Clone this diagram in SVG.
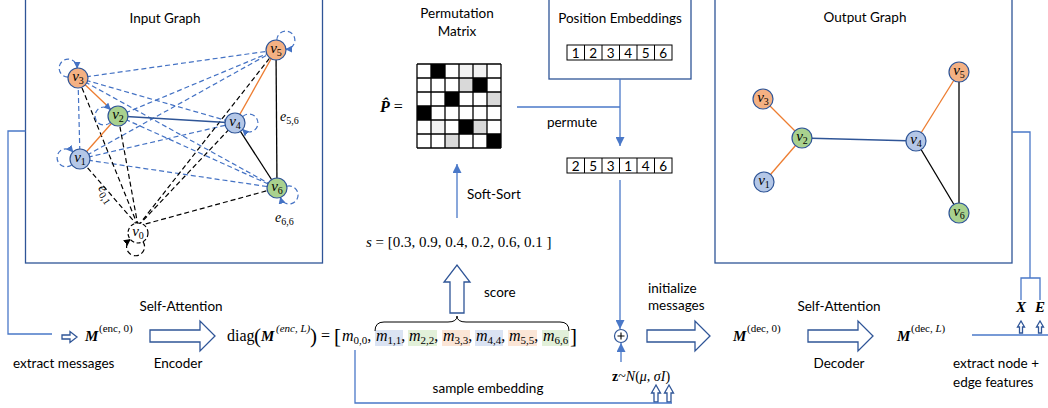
<svg xmlns="http://www.w3.org/2000/svg" width="1048" height="408" viewBox="0 0 1048 408">
<style>
.lbl{font-family:Lato,"Liberation Sans",sans-serif;font-size:13.5px;fill:#000}
.mid{text-anchor:middle}
.box{fill:#fff;stroke:#2F5597;stroke-width:1.3}
.conn{fill:none;stroke:#4A78C8;stroke-width:1.3}
.ser{font-family:"Liberation Serif","DejaVu Serif",serif;fill:#000}
.it{font-style:italic}
.bi{font-style:italic;font-weight:bold}
.nv{font-family:"Liberation Serif",serif;font-style:italic;font-size:15px;text-anchor:middle}
.nb{fill:#B4C7E7;stroke:#2F5597;stroke-width:1.2}
.ng{fill:#A9D18E;stroke:#2F5597;stroke-width:1.2}
.no{fill:#F4B183;stroke:#2F5597;stroke-width:1.2}
.dblue{stroke:#4472C4;stroke-width:1.2;stroke-dasharray:5 3;fill:none}
.dblack{stroke:#000;stroke-width:1.2;stroke-dasharray:5 3;fill:none}
.eor{stroke:#ED7D31;stroke-width:1.3}
.edb{stroke:#2F5597;stroke-width:1.3}
.ebk{stroke:#000;stroke-width:1.3}
.hollow{fill:#fff;stroke:#2F5597;stroke-width:1.3}
.cell{fill:#fff;stroke:#000;stroke-width:1}
</style>
<defs>
<marker id="ah" viewBox="0 0 10 10" refX="10" refY="5" markerWidth="9" markerHeight="9" markerUnits="userSpaceOnUse" orient="auto"><path d="M0,0 L10,5 L0,10 z" fill="#4A78C8"/></marker>
<marker id="lb" viewBox="0 0 10 10" refX="9" refY="5" markerWidth="7" markerHeight="7" markerUnits="userSpaceOnUse" orient="auto"><path d="M0,0 L10,5 L0,10 z" fill="#4472C4"/></marker>
<marker id="lk" viewBox="0 0 10 10" refX="9" refY="5" markerWidth="7" markerHeight="7" markerUnits="userSpaceOnUse" orient="auto"><path d="M0,0 L10,5 L0,10 z" fill="#000"/></marker>
</defs>
<rect width="1048" height="408" fill="#fff"/>

<!-- Input graph -->
<g id="input-graph">
<rect class="box" x="25.5" y="-2" width="297" height="265"/>
<text class="lbl mid" x="165" y="23">Input Graph</text>
<g id="in-edges">
<line class="dblue" x1="80" y1="159" x2="78" y2="78"/>
<line class="dblue" x1="80" y1="159" x2="235" y2="123"/>
<line class="dblue" x1="80" y1="159" x2="276" y2="50"/>
<line class="dblue" x1="80" y1="159" x2="277" y2="188"/>
<line class="dblue" x1="118" y1="116" x2="276" y2="50"/>
<line class="dblue" x1="118" y1="116" x2="277" y2="188"/>
<line class="dblue" x1="78" y1="78" x2="235" y2="123"/>
<line class="dblue" x1="78" y1="78" x2="276" y2="50"/>
<line class="dblue" x1="78" y1="78" x2="277" y2="188"/>
<line class="dblack" x1="138" y1="226" x2="80" y2="159"/>
<line class="dblack" x1="138" y1="226" x2="118" y2="116"/>
<line class="dblack" x1="138" y1="226" x2="78" y2="78"/>
<line class="dblack" x1="138" y1="226" x2="235" y2="123"/>
<line class="dblack" x1="138" y1="226" x2="276" y2="50"/>
<line class="dblack" x1="138" y1="226" x2="277" y2="188"/>
<line class="eor" x1="78" y1="78" x2="118" y2="116"/>
<line class="eor" x1="80" y1="159" x2="118" y2="116"/>
<line class="edb" x1="118" y1="116" x2="235" y2="123"/>
<line class="eor" x1="235" y1="123" x2="276" y2="50"/>
<line class="ebk" x1="235" y1="123" x2="277" y2="188"/>
<line class="ebk" x1="276" y1="50" x2="277" y2="188"/>
<path class="dblue" marker-end="url(#lb)" d="M68.04,77.13 A9,9 0 1 1 77.13,68.04"/>
<path class="dblue" marker-end="url(#lb)" d="M110.34,122.43 A9,9 0 1 1 110.34,109.57"/>
<path class="dblue" marker-end="url(#lb)" d="M71.81,164.74 A9,9 0 1 1 72.93,151.93"/>
<path class="dblue" marker-end="url(#lb)" d="M242.66,116.57 A9,9 0 1 1 242.66,129.43"/>
<path class="dblue" marker-end="url(#lb)" d="M276.87,40.04 A9,9 0 1 1 285.96,49.13"/>
<path class="dblue" marker-end="url(#lb)" d="M286.85,186.26 A9,9 0 1 1 280.42,197.40"/>
<path class="dblack" marker-end="url(#lk)" d="M143,241.66 A9,9 0 1 1 130.34,239.43"/>
<text class="ser it" font-size="14" x="280" y="121">e<tspan font-size="10" dy="3" font-style="normal">5,6</tspan></text>
<text class="ser it" font-size="14" x="275" y="222">e<tspan font-size="10" dy="3" font-style="normal">6,6</tspan></text>
<text class="ser it" font-size="14" x="91" y="192" transform="rotate(58 98 196)">e<tspan font-size="10" dy="3" font-style="normal">0,1</tspan></text>
</g>
<g id="in-v0"><circle cx="138" cy="233" r="10" fill="#fff" stroke="#000" stroke-width="1.2" stroke-dasharray="4 2.5"/><text class="nv" x="138" y="236">v<tspan font-size="10" dy="3" font-style="normal">0</tspan></text></g>
<g id="in-v1"><circle class="nb" cx="80" cy="159" r="10"/><text class="nv" x="80" y="162">v<tspan font-size="10" dy="3" font-style="normal">1</tspan></text></g>
<g id="in-v2"><circle class="ng" cx="118" cy="116" r="10"/><text class="nv" x="118" y="119">v<tspan font-size="10" dy="3" font-style="normal">2</tspan></text></g>
<g id="in-v3"><circle class="no" cx="78" cy="78" r="10"/><text class="nv" x="78" y="81">v<tspan font-size="10" dy="3" font-style="normal">3</tspan></text></g>
<g id="in-v4"><circle class="nb" cx="235" cy="123" r="10"/><text class="nv" x="235" y="126">v<tspan font-size="10" dy="3" font-style="normal">4</tspan></text></g>
<g id="in-v5"><circle class="no" cx="276" cy="50" r="10"/><text class="nv" x="276" y="53">v<tspan font-size="10" dy="3" font-style="normal">5</tspan></text></g>
<g id="in-v6"><circle class="ng" cx="277" cy="188" r="10"/><text class="nv" x="277" y="191">v<tspan font-size="10" dy="3" font-style="normal">6</tspan></text></g>
</g>

<!-- Output graph -->
<g id="output-graph">
<rect class="box" x="715" y="-2" width="297" height="265"/>
<text class="lbl mid" x="865" y="22">Output Graph</text>
<g id="out-edges">
<line class="eor" x1="763" y1="99" x2="802" y2="138"/>
<line class="eor" x1="764" y1="182" x2="802" y2="138"/>
<line class="edb" x1="802" y1="138" x2="916" y2="141"/>
<line class="eor" x1="916" y1="141" x2="959" y2="72"/>
<line class="ebk" x1="916" y1="141" x2="959" y2="213"/>
<line class="ebk" x1="959" y1="72" x2="959" y2="213"/>
</g>
<g id="out-v1"><circle class="nb" cx="764" cy="182" r="10"/><text class="nv" x="764" y="185">v<tspan font-size="10" dy="3" font-style="normal">1</tspan></text></g>
<g id="out-v2"><circle class="ng" cx="802" cy="138" r="10"/><text class="nv" x="802" y="141">v<tspan font-size="10" dy="3" font-style="normal">2</tspan></text></g>
<g id="out-v3"><circle class="no" cx="763" cy="99" r="10"/><text class="nv" x="763" y="102">v<tspan font-size="10" dy="3" font-style="normal">3</tspan></text></g>
<g id="out-v4"><circle class="nb" cx="916" cy="141" r="10"/><text class="nv" x="916" y="144">v<tspan font-size="10" dy="3" font-style="normal">4</tspan></text></g>
<g id="out-v5"><circle class="no" cx="959" cy="72" r="10"/><text class="nv" x="959" y="75">v<tspan font-size="10" dy="3" font-style="normal">5</tspan></text></g>
<g id="out-v6"><circle class="ng" cx="959" cy="213" r="10"/><text class="nv" x="959" y="216">v<tspan font-size="10" dy="3" font-style="normal">6</tspan></text></g>
</g>

<!-- Position embeddings -->
<g id="position-embeddings">
<rect class="box" x="549" y="-2" width="142" height="81"/>
<text class="lbl mid" x="620" y="23">Position Embeddings</text>
<g class="lbl" font-size="13" text-anchor="middle">
<rect class="cell" x="567" y="45" width="105" height="15"/>
<path d="M584.5,45v15M602,45v15M619.5,45v15M637,45v15M654.5,45v15" stroke="#000"/>
<text x="575.75" y="57.5">1</text><text x="593.25" y="57.5">2</text><text x="610.75" y="57.5">3</text><text x="628.25" y="57.5">4</text><text x="645.75" y="57.5">5</text><text x="663.25" y="57.5">6</text>
</g>
</g>

<g id="permuted-positions" class="lbl" font-size="13" text-anchor="middle">
<rect class="cell" x="567" y="158" width="105" height="15"/>
<path d="M584.5,158v15M602,158v15M619.5,158v15M637,158v15M654.5,158v15" stroke="#000"/>
<text x="575.75" y="170.5">2</text><text x="593.25" y="170.5">5</text><text x="610.75" y="170.5">3</text><text x="628.25" y="170.5">1</text><text x="645.75" y="170.5">4</text><text x="663.25" y="170.5">6</text>
</g>

<!-- Permutation matrix -->
<g id="permutation-matrix">
<text class="lbl mid" x="457" y="18">Permutation</text>
<text class="lbl mid" x="457" y="36">Matrix</text>
<text class="ser" font-size="16" x="380" y="112"><tspan font-style="italic" font-weight="bold">P̂</tspan> =</text>
<rect x="417" y="64" width="84" height="84" fill="#fff"/>
<rect x="431" y="64" width="14" height="14" fill="#000"/>
<rect x="459" y="64" width="14" height="14" fill="#F2F2F2"/>
<rect x="473" y="64" width="14" height="14" fill="#F2F2F2"/>
<rect x="459" y="78" width="14" height="14" fill="#D9D9D9"/>
<rect x="473" y="78" width="14" height="14" fill="#000"/>
<rect x="445" y="92" width="14" height="14" fill="#000"/>
<rect x="487" y="92" width="14" height="14" fill="#D9D9D9"/>
<rect x="417" y="106" width="14" height="14" fill="#000"/>
<rect x="431" y="120" width="14" height="14" fill="#F2F2F2"/>
<rect x="459" y="120" width="14" height="14" fill="#000"/>
<rect x="473" y="120" width="14" height="14" fill="#D9D9D9"/>
<rect x="445" y="134" width="14" height="14" fill="#D9D9D9"/>
<rect x="487" y="134" width="14" height="14" fill="#000"/>
<path d="M417,64v84M431,64v84M445,64v84M459,64v84M473,64v84M487,64v84M501,64v84M417,64h84M417,78h84M417,92h84M417,106h84M417,120h84M417,134h84M417,148h84" stroke="#000" stroke-width="1.3" fill="none"/>
</g>

<!-- score vector -->
<g id="score-vector">
<text class="ser" font-size="15" x="366" y="247"><tspan font-style="italic">s</tspan> = [0.3, 0.9, 0.4, 0.2, 0.6, 0.1 ]</text>
</g>

<!-- Encoder row -->
<g id="enc-input">
<polygon class="hollow" points="62,335 70,335 70,331.5 77,337 70,342.5 70,339 62,339"/>
<text class="ser bi" font-size="15" x="85" y="341">M</text>
<text class="ser" font-size="11" x="99" y="332">(enc, 0)</text>
<text class="lbl" x="13" y="368">extract messages</text>
</g>
<g id="encoder">
<polygon class="hollow" points="150,330 200,330 200,321 215,336 200,351 200,342 150,342"/>
<text class="lbl mid" x="181" y="311">Self-Attention</text>
<text class="lbl mid" x="178" y="368">Encoder</text>
</g>
<g id="diag-messages">
<text class="ser" font-size="16" x="227" y="341">diag</text>
<text class="ser" font-size="21" x="254" y="343">(</text>
<text class="ser bi" font-size="15" x="261" y="341">M</text>
<text class="ser it" font-size="11" x="276" y="332">(enc, L)</text>
<text class="ser" font-size="21" x="310" y="343">)</text>
<text class="ser" font-size="16" x="321" y="341">=</text>
<text class="ser" font-size="21" x="334" y="343">[</text>
<rect x="375" y="330" width="28" height="16" fill="#DAE3F3"/>
<rect x="408" y="330" width="29" height="16" fill="#E2F0D9"/>
<rect x="442" y="330" width="28" height="16" fill="#FBE5D6"/>
<rect x="475" y="330" width="28" height="16" fill="#DAE3F3"/>
<rect x="508" y="330" width="29" height="16" fill="#FBE5D6"/>
<rect x="542" y="330" width="27" height="16" fill="#E2F0D9"/>
<g class="ser" font-size="16">
<text x="342" y="341"><tspan font-style="italic">m</tspan><tspan font-size="11" dy="3">0,0</tspan><tspan dy="-3">,</tspan></text>
<text x="376" y="341"><tspan font-style="italic">m</tspan><tspan font-size="11" dy="3">1,1</tspan><tspan dy="-3">,</tspan></text>
<text x="409" y="341"><tspan font-style="italic">m</tspan><tspan font-size="11" dy="3">2,2</tspan><tspan dy="-3">,</tspan></text>
<text x="443" y="341"><tspan font-style="italic">m</tspan><tspan font-size="11" dy="3">3,3</tspan><tspan dy="-3">,</tspan></text>
<text x="476" y="341"><tspan font-style="italic">m</tspan><tspan font-size="11" dy="3">4,4</tspan><tspan dy="-3">,</tspan></text>
<text x="509" y="341"><tspan font-style="italic">m</tspan><tspan font-size="11" dy="3">5,5</tspan><tspan dy="-3">,</tspan></text>
<text x="543" y="341"><tspan font-style="italic">m</tspan><tspan font-size="11" dy="3">6,6</tspan></text>
</g>
<text class="ser" font-size="21" x="570" y="343">]</text>
<path d="M375,331 Q375,322 384,322 L448,322 Q457,322 457,316 Q457,322 466,322 L560,322 Q569,322 569,331" fill="none" stroke="#000" stroke-width="1"/>
</g>
<g id="score-arrow">
<polygon class="hollow" points="450,313 450,282 444,282 457,265 470,282 464,282 464,313"/>
<text class="lbl" x="484" y="297">score</text>
</g>

<!-- sum and noise -->
<g id="sum-node">
<circle cx="621" cy="336" r="6.5" fill="#fff" stroke="#2F5597" stroke-width="1.2"/>
<path d="M617.5,336h7M621,332.5v7" stroke="#000" stroke-width="1.1"/>
</g>
<g id="noise">
<text class="ser" font-size="14" x="612" y="381"><tspan font-weight="bold">z</tspan>~<tspan font-style="italic">N</tspan>(<tspan font-style="italic">μ</tspan>, <tspan font-style="italic">σI</tspan>)</text>
<polygon class="hollow" points="654,402 654,393 651.5,393 656,385 660.5,393 658,393 658,402"/>
<polygon class="hollow" points="667,402 667,393 664.5,393 669,385 673.5,393 671,393 671,402"/>
</g>

<!-- Decoder row -->
<g id="init-arrow">
<polygon class="hollow" points="647,330 695,330 695,321 710,336 695,351 695,342 647,342"/>
<text class="lbl" x="648" y="293">initialize</text>
<text class="lbl" x="648" y="310">messages</text>
</g>
<g id="dec-input">
<text class="ser bi" font-size="15" x="733" y="341">M</text>
<text class="ser" font-size="11" x="747" y="332">(dec, 0)</text>
</g>
<g id="decoder">
<polygon class="hollow" points="808,330 858,330 858,321 873,336 858,351 858,342 808,342"/>
<text class="lbl mid" x="839" y="311">Self-Attention</text>
<text class="lbl mid" x="839" y="368">Decoder</text>
</g>
<g id="dec-output">
<text class="ser bi" font-size="15" x="897" y="341">M</text>
<text class="ser" font-size="11" x="911" y="332">(dec, <tspan font-style="italic">L</tspan>)</text>
</g>
<g id="features">
<text class="ser bi" font-size="15" x="1021" y="312" text-anchor="middle">X</text>
<text class="ser bi" font-size="15" x="1040" y="312" text-anchor="middle">E</text>
<polygon class="hollow" points="1019.5,333 1019.5,327 1017.5,327 1021,321 1024.5,327 1022.5,327 1022.5,333"/>
<polygon class="hollow" points="1038.5,333 1038.5,327 1036.5,327 1040,321 1043.5,327 1041.5,327 1041.5,333"/>
<text class="lbl" x="953" y="368">extract node +</text>
<text class="lbl" x="953" y="387">edge features</text>
</g>

<!-- connectors -->
<g id="connectors">
<polyline class="conn" points="25.5,131 8,131 8,334 52,334"/>
<line class="conn" x1="457" y1="218" x2="457" y2="164" marker-end="url(#ah)"/>
<line class="conn" x1="517" y1="107" x2="620" y2="107"/>
<line class="conn" x1="620" y1="79" x2="620" y2="146" marker-end="url(#ah)"/>
<line class="conn" x1="620" y1="180" x2="620" y2="329" marker-end="url(#ah)"/>
<line class="conn" x1="621" y1="362" x2="621" y2="343" marker-end="url(#ah)"/>
<polyline class="conn" points="355,350 355,403 672,403"/>
<polyline class="conn" points="1012,132 1030,132 1030,278"/>
<polyline class="conn" points="1021,300 1021,278 1040,278 1040,300"/>
<line class="conn" x1="972" y1="335" x2="1048" y2="335"/>
</g>
<text class="lbl mid" x="572" y="127">permute</text>
<text class="lbl" x="467" y="199">Soft-Sort</text>
<text class="lbl mid" x="488" y="393">sample embedding</text>
</svg>
